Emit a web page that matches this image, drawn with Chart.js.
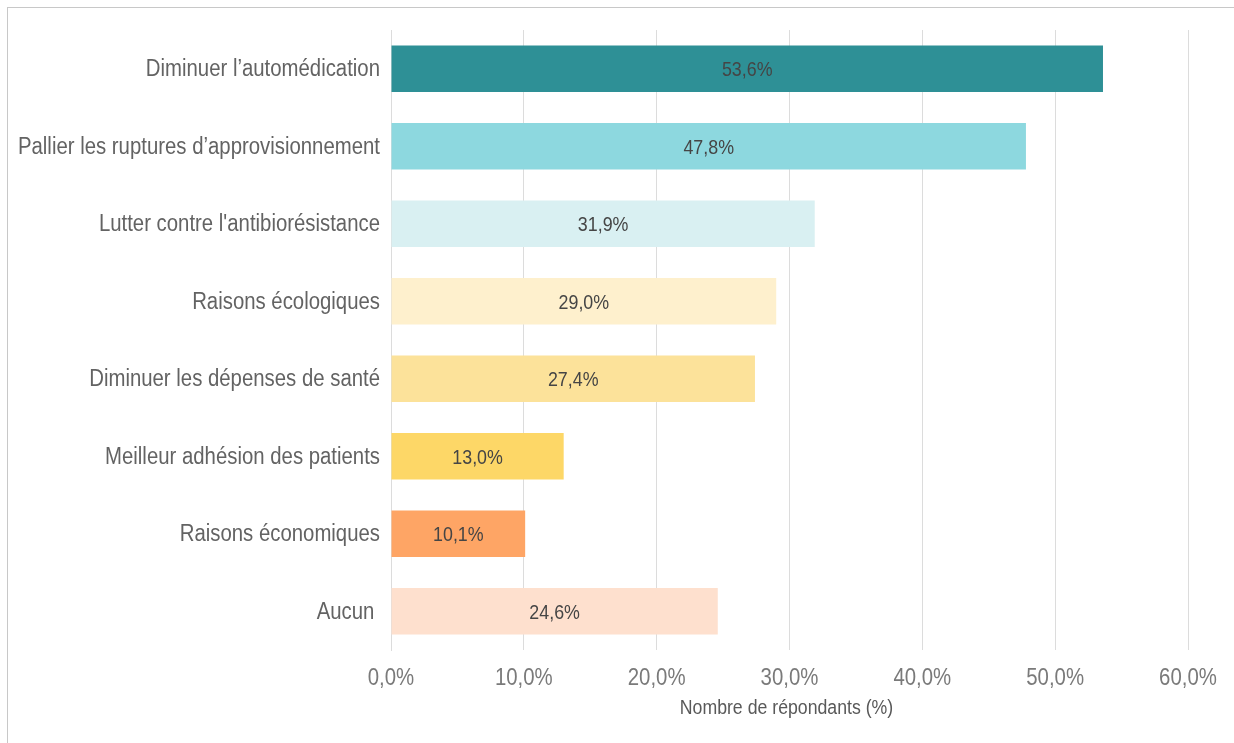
<!DOCTYPE html>
<html><head><meta charset="utf-8">
<script src="https://cdn.jsdelivr.net/npm/chart.js@4"></script>
<style>
html,body{margin:0;padding:0;background:#fff;}
#frame{position:absolute;left:7px;top:7px;width:1226px;height:735px;border-top:1px solid #c8c8c8;border-left:1px solid #c8c8c8;}
#c{display:block;}
</style></head><body>
<div id="frame"><canvas id="c" width="1226" height="735"></canvas></div>
<script>
const categories = ["Diminuer l’automédication","Pallier les ruptures d’approvisionnement","Lutter contre l'antibiorésistance","Raisons écologiques","Diminuer les dépenses de santé","Meilleur adhésion des patients","Raisons économiques","Aucun "];
const values = [53.6, 47.8, 31.9, 29.0, 27.4, 13.0, 10.1, 24.6];
const colors = ["#2E9096","#8DD8DF","#D9F0F2","#FEF0CD","#FCE29A","#FDD767","#FEA565","#FEE0CE"];
const xTicks = [0,10,20,30,40,50,60];
const xTitle = "Nombre de répondants (%)";
const FONT = "'Liberation Sans', Arial, sans-serif";

const fmt = v => v.toFixed(1).replace('.', ',') + '%';

// draws text horizontally condensed to emulate a narrow typeface
function narrowText(ctx, text, x, y, align, font, color, squeeze){
  ctx.save();
  ctx.font = font;
  ctx.fillStyle = color;
  ctx.textAlign = align;
  ctx.textBaseline = 'alphabetic';
  ctx.translate(x, y);
  ctx.scale(squeeze, 1);
  ctx.fillText(text, 0, 0);
  ctx.restore();
}

const textPlugin = {
  id: 'narrowText',
  afterDraw(chart){
    const ctx = chart.ctx;
    const xs = chart.scales.x, ys = chart.scales.y;
    ys.ticks.forEach((t, i) => {
      narrowText(ctx, categories[i], ys.right - 11, ys.getPixelForTick(i) + 7.7, 'right', '23px ' + FONT, '#636363', 0.885);
    });
    xs.ticks.forEach((t, i) => {
      narrowText(ctx, fmt(t.value), xs.getPixelForTick(i), xs.top + 35, 'center', '24px ' + FONT, '#7a7a7a', 0.85);
    });
    const ca = chart.chartArea;
    narrowText(ctx, xTitle, (ca.left + ca.right) / 2 - 3, xs.top + 64, 'center', '20px ' + FONT, '#595959', 0.885);
    const meta = chart.getDatasetMeta(0);
    meta.data.forEach((bar, i) => {
      narrowText(ctx, fmt(values[i]), (bar.base + bar.x) / 2, bar.y + 7.7, 'center', '21px ' + FONT, '#454545', 0.85);
    });
  }
};

new Chart(document.getElementById('c'), {
  type: 'bar',
  data: { labels: categories, datasets: [{ data: values, backgroundColor: colors, borderWidth: 0, barPercentage: 0.6, categoryPercentage: 1.0 }] },
  options: {
    indexAxis: 'y',
    responsive: false,
    animation: false,
    layout: { padding: { top: 22, right: 46, left: 0, bottom: 0 } },
    plugins: { legend: { display: false }, tooltip: { enabled: false } },
    scales: {
      x: {
        min: 0, max: 60,
        afterBuildTicks(scale){ scale.ticks = xTicks.map(v => ({ value: v })); },
        afterFit(scale){ scale.height = 93; },
        grid: { color: '#dcdcdc', lineWidth: 1, drawTicks: false },
        border: { display: false },
        ticks: { display: false }
      },
      y: {
        afterFit(scale){ scale.width = 383; },
        grid: { display: false, drawTicks: false },
        border: { display: true, color: '#dcdcdc' },
        ticks: { display: false }
      }
    }
  },
  plugins: [textPlugin]
});
</script>
</body></html>
